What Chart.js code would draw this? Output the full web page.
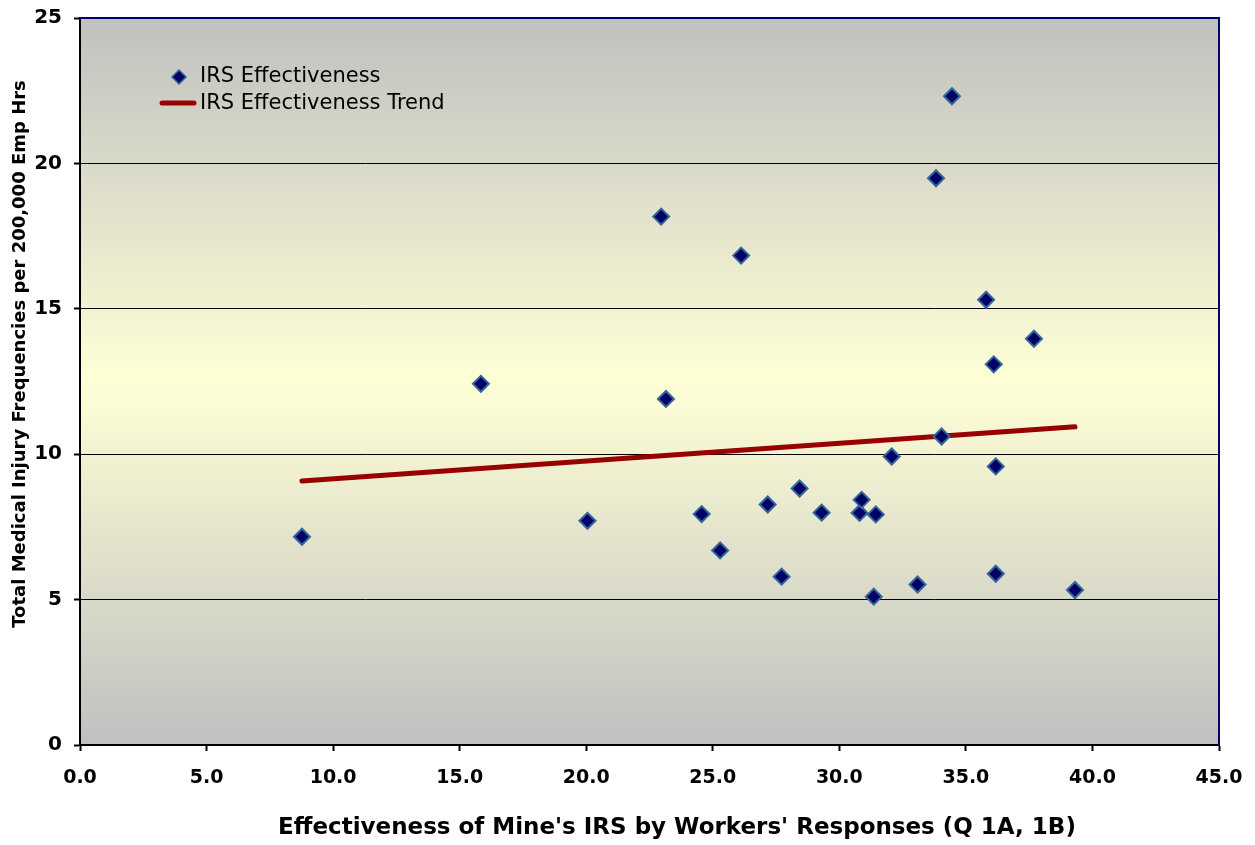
<!DOCTYPE html>
<html>
<head>
<meta charset="utf-8">
<script src="https://cdn.jsdelivr.net/npm/chart.js@4/dist/chart.umd.min.js"></script>
<style>
  html, body { margin: 0; padding: 0; background: #fff; }
  #wrap { width: 1255px; height: 845px; position: relative; }
</style>
</head>
<body>
<div id="wrap"><canvas id="chart"></canvas></div>
<script>
// IRS effectiveness score (x) vs injury frequency (y)
const effectiveness = [8.77, 15.84, 20.05, 22.96, 23.15, 24.56, 25.29, 26.12, 27.17, 27.72,
  28.43, 29.30, 30.80, 30.88, 31.36, 31.44, 32.07, 33.09, 33.82, 34.04,
  34.45, 35.80, 36.10, 36.18, 36.18, 37.69, 39.31]
const injuryFreq = [7.16, 12.42, 7.71, 18.17, 11.90, 7.94, 6.69, 16.83, 8.27, 5.79,
  8.82, 7.99, 7.98, 8.43, 5.10, 7.93, 9.92, 5.52, 19.49, 10.61,
  22.31, 15.31, 13.09, 9.58, 5.89, 13.97, 5.33]
const trendX = [8.77, 39.31]
const trendY = [9.08, 10.94]
const xTicks = [0, 5, 10, 15, 20, 25, 30, 35, 40, 45]
const yTicks = [0, 5, 10, 15, 20, 25]

const labels = {
  series: 'IRS Effectiveness',
  trend: 'IRS Effectiveness Trend',
  xTitle: "Effectiveness of Mine's IRS by Workers' Responses (Q 1A, 1B)",
  yTitle: 'Total Medical Injury Frequencies per 200,000 Emp Hrs',
}

const FONT = '"DejaVu Sans", Verdana, sans-serif'
const NAVY = '#000066'
const MARKER_EDGE = '#336699'
const TREND = '#990000'

const points = effectiveness.map((x, i) => ({ x, y: injuryFreq[i] }))
const trend = trendX.map((x, i) => ({ x, y: trendY[i] }))

const decor = {
  id: 'decor',
  beforeDraw(chart) {
    const { ctx, chartArea: a } = chart
    const g = ctx.createLinearGradient(0, a.top, 0, a.bottom)
    g.addColorStop(0, '#c0c0c0')
    g.addColorStop(0.5, '#ffffd6')
    g.addColorStop(1, '#c0c0c0')
    ctx.save()
    ctx.fillStyle = g
    ctx.fillRect(a.left, a.top, a.right - a.left, a.bottom - a.top)
    ctx.restore()
  },
  afterDraw(chart) {
    const { ctx, chartArea: a } = chart
    ctx.save()
    // top and right frame
    ctx.strokeStyle = NAVY
    ctx.lineWidth = 2
    ctx.beginPath()
    ctx.moveTo(a.left, a.top)
    ctx.lineTo(a.right, a.top)
    ctx.lineTo(a.right, a.bottom)
    ctx.stroke()

    // legend inside plot
    ctx.beginPath()
    ctx.moveTo(179, 70)
    ctx.lineTo(186, 77)
    ctx.lineTo(179, 84)
    ctx.lineTo(172, 77)
    ctx.closePath()
    ctx.fillStyle = NAVY
    ctx.fill()
    ctx.strokeStyle = MARKER_EDGE
    ctx.lineWidth = 1.5
    ctx.stroke()

    ctx.beginPath()
    ctx.moveTo(162, 103)
    ctx.lineTo(194, 103)
    ctx.strokeStyle = TREND
    ctx.lineWidth = 5
    ctx.lineCap = 'round'
    ctx.stroke()

    ctx.fillStyle = '#000'
    ctx.font = '21px ' + FONT
    ctx.textBaseline = 'middle'
    ctx.textAlign = 'left'
    ctx.fillText(labels.series, 200, 77)
    ctx.fillText(labels.trend, 200, 104)

    // axis titles
    ctx.font = 'bold 23px ' + FONT
    ctx.textAlign = 'center'
    ctx.fillText(labels.xTitle, 677, 828)
    ctx.translate(20, 354)
    ctx.rotate(-Math.PI / 2)
    ctx.font = 'bold 18px ' + FONT
    ctx.fillText(labels.yTitle, 0, 0)
    ctx.restore()
  },
}

new Chart(document.getElementById('chart'), {
  type: 'scatter',
  data: {
    datasets: [
      {
        label: labels.series,
        data: points,
        pointStyle: 'rectRot',
        pointRadius: 8,
        pointHoverRadius: 8,
        backgroundColor: NAVY,
        borderColor: MARKER_EDGE,
        borderWidth: 2,
      },
      {
        label: labels.trend,
        type: 'line',
        data: trend,
        borderColor: TREND,
        borderWidth: 5,
        borderCapStyle: 'round',
        pointRadius: 0,
        fill: false,
      },
    ],
  },
  options: {
    responsive: true,
    maintainAspectRatio: false,
    animation: false,
    layout: { padding: { top: 18, right: 36, left: 0, bottom: 0 } },
    plugins: { legend: { display: false }, tooltip: { enabled: false } },
    scales: {
      x: {
        type: 'linear',
        min: 0,
        max: 45,
        afterBuildTicks: (s) => { s.ticks = xTicks.map((v) => ({ value: v })) },
        afterFit: (s) => { s.height = 100; s.paddingLeft = 0; s.paddingRight = 0 },
        ticks: {
          color: '#000',
          font: { family: FONT, size: 19, weight: 'bold' },
          padding: 16,
          maxRotation: 0,
          callback: (v) => Number(v).toFixed(1),
        },
        grid: { drawOnChartArea: false, drawTicks: true, tickLength: 6, tickColor: '#000', tickWidth: 2 },
        border: { display: true, color: '#000', width: 2 },
      },
      y: {
        type: 'linear',
        min: 0,
        max: 25,
        afterBuildTicks: (s) => { s.ticks = yTicks.map((v) => ({ value: v })) },
        afterFit: (s) => { s.width = 80; s.paddingTop = 0; s.paddingBottom = 0 },
        ticks: {
          color: '#000',
          font: { family: FONT, size: 20, weight: 'bold' },
          padding: 12,
        },
        grid: {
          color: (c) => (c.tick && (c.tick.value === 0 || c.tick.value === 25) ? 'rgba(0,0,0,0)' : '#000'),
          lineWidth: 1,
          tickLength: 6,
          tickColor: '#000',
          tickWidth: 2,
        },
        border: { display: true, color: '#000', width: 2 },
      },
    },
  },
  plugins: [decor],
})
</script>
</body>
</html>
